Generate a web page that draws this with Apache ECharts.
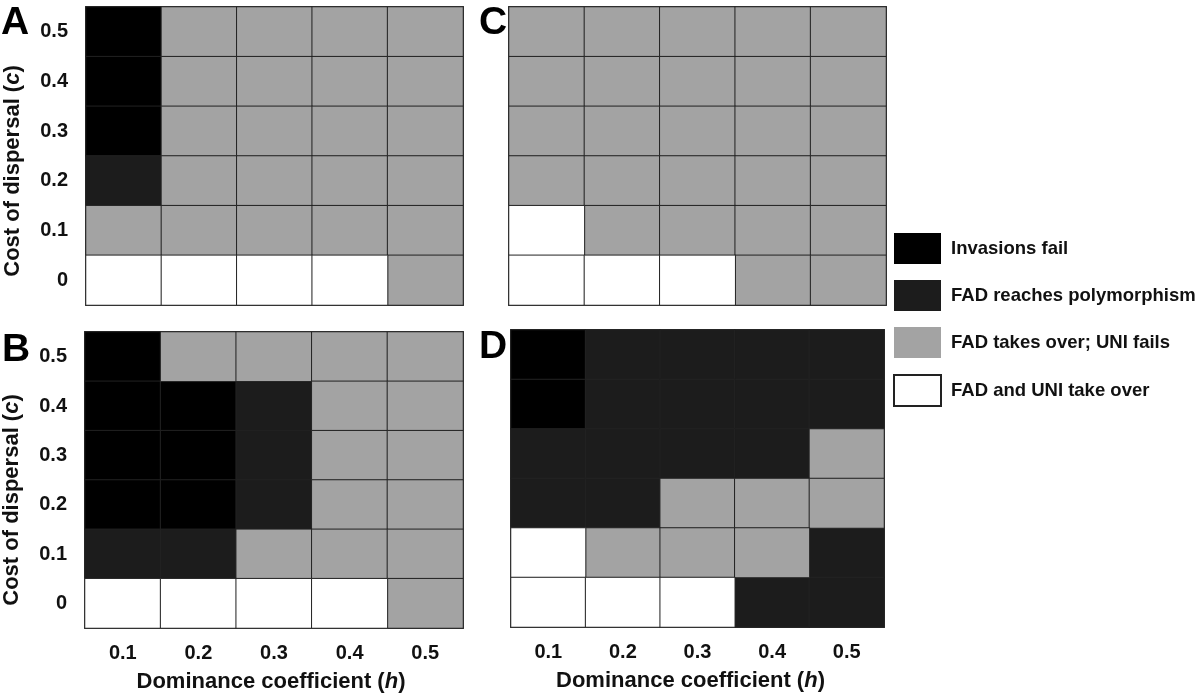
<!DOCTYPE html>
<html>
<head>
<meta charset="utf-8">
<script src="https://cdn.jsdelivr.net/npm/echarts@6/dist/echarts.min.js"></script>
<style>html,body{margin:0;padding:0;background:#fff;}#chart{width:1200px;height:697px;}</style>
</head>
<body>
<div id="chart"></div>
<script>
// Categories
const hValues = ['0.1', '0.2', '0.3', '0.4', '0.5'];          // dominance coefficient (x)
const cValues = ['0', '0.1', '0.2', '0.3', '0.4', '0.5'];     // cost of dispersal (y), bottom to top
const outcomeNames = ['Invasions fail', 'FAD reaches polymorphism', 'FAD takes over; UNI fails', 'FAD and UNI take over'];
const outcomeColors = ['#000000', '#1c1c1c', '#a3a3a3', '#ffffff'];
const panelLetters = ['A', 'B', 'C', 'D'];

// Outcome codes per panel; rows listed from c = 0.5 (top) down to c = 0 (bottom)
// 0 = invasions fail, 1 = polymorphism, 2 = FAD takes over, 3 = FAD and UNI take over
const panelA = [
  [0, 2, 2, 2, 2],
  [0, 2, 2, 2, 2],
  [0, 2, 2, 2, 2],
  [1, 2, 2, 2, 2],
  [2, 2, 2, 2, 2],
  [3, 3, 3, 3, 2]
];
const panelB = [
  [0, 2, 2, 2, 2],
  [0, 0, 1, 2, 2],
  [0, 0, 1, 2, 2],
  [0, 0, 1, 2, 2],
  [1, 1, 2, 2, 2],
  [3, 3, 3, 3, 2]
];
const panelC = [
  [2, 2, 2, 2, 2],
  [2, 2, 2, 2, 2],
  [2, 2, 2, 2, 2],
  [2, 2, 2, 2, 2],
  [3, 2, 2, 2, 2],
  [3, 3, 3, 2, 2]
];
const panelD = [
  [0, 1, 1, 1, 1],
  [0, 1, 1, 1, 1],
  [1, 1, 1, 1, 2],
  [1, 1, 2, 2, 2],
  [3, 2, 2, 2, 1],
  [3, 3, 3, 1, 1]
];
const panels = [panelA, panelB, panelC, panelD];

const FONT = '"Liberation Sans", Arial, Helvetica, sans-serif';

// layout: A, B, C, D
const grids = [
  {left: 86, top: 7, width: 377, height: 298},
  {left: 82, top: 332, width: 381, height: 296},
  {left: 509, top: 7, width: 377, height: 298},
  {left: 511, top: 330, width: 373, height: 297}
].map(g => Object.assign({show: true, borderColor: '#3a3a3a', borderWidth: 2, backgroundColor: 'transparent'}, g));

const showXLabels = [false, true, false, true];
const showYLabels = [true, true, false, false];
const yNamePad = [[0, 30, 0, 0], [0, 40, 0, 0]];
const xNamePad = [null, [0, 6, 0, 0], null, [0, 14, 0, 0]];

const xAxes = grids.map((g, i) => ({
  type: 'category', gridIndex: i, data: hValues,
  axisLine: {show: false}, axisTick: {show: false}, splitLine: {show: false},
  axisLabel: {show: showXLabels[i], margin: 15, fontFamily: FONT, fontWeight: 'bold', fontSize: 20, color: '#111'},
  name: showXLabels[i] ? '{n|Dominance coefficient (}{i|h}{n|)}' : '',
  nameLocation: 'middle', nameGap: 43,
  nameTextStyle: {
    padding: xNamePad[i] || 0,
    rich: {
      n: {fontFamily: FONT, fontWeight: 'bold', fontSize: 22, color: '#111'},
      i: {fontFamily: FONT, fontWeight: 'bold', fontStyle: 'italic', fontSize: 22, color: '#111'}
    }
  }
}));

const yAxes = grids.map((g, i) => ({
  type: 'category', gridIndex: i, data: cValues,
  axisLine: {show: false}, axisTick: {show: false}, splitLine: {show: false},
  axisLabel: {show: showYLabels[i], margin: 18, fontFamily: FONT, fontWeight: 'bold', fontSize: 20, color: '#111'},
  name: showYLabels[i] ? '{n|Cost of dispersal (}{i|c}{n|)}' : '',
  nameLocation: 'middle', nameGap: 62, nameRotate: 90,
  nameTextStyle: {
    padding: yNamePad[i] || 0,
    rich: {
      n: {fontFamily: FONT, fontWeight: 'bold', fontSize: 22, color: '#111'},
      i: {fontFamily: FONT, fontWeight: 'bold', fontStyle: 'italic', fontSize: 22, color: '#111'}
    }
  }
}));

const series = [];
panels.forEach((rows, p) => {
  outcomeNames.forEach((name, k) => {
    const data = [];
    rows.forEach((row, r) => {
      row.forEach((code, x) => {
        if (code === k) data.push([x, rows.length - 1 - r, code]);
      });
    });
    series.push({
      type: 'heatmap', name: name, xAxisIndex: p, yAxisIndex: p, data: data,
      itemStyle: {color: outcomeColors[k], borderColor: '#222', borderWidth: 1},
      emphasis: {disabled: true},
      label: {show: false}
    });
  });
});

const titlePos = [{left: 1, top: 4}, {left: 2, top: 331}, {left: 479, top: 4}, {left: 479, top: 328}];
const titles = panelLetters.map((t, i) => ({
  text: t, left: titlePos[i].left, top: titlePos[i].top, padding: 0,
  textStyle: {fontFamily: FONT, fontWeight: 'bold', fontSize: 39, color: '#000'}
}));

const option = {
  backgroundColor: '#fff',
  animation: false,
  title: titles,
  grid: grids,
  xAxis: xAxes,
  yAxis: yAxes,
  legend: {
    orient: 'vertical', left: 893, top: 233, padding: 0,
    icon: 'rect', itemWidth: 47, itemHeight: 31, itemGap: 16,
    selectedMode: false,
    textStyle: {fontFamily: FONT, fontWeight: 'bold', fontSize: 18.5, color: '#111', padding: [0, 0, 0, 5]},
    data: outcomeNames.map((n, k) => ({
      name: n,
      itemStyle: k === 3 ? {color: '#fff', borderColor: '#222', borderWidth: 2} : {color: outcomeColors[k], borderWidth: 0}
    }))
  },
  series: series
};

const chart = echarts.init(document.getElementById('chart'));
chart.setOption(option);
</script>
</body>
</html>
